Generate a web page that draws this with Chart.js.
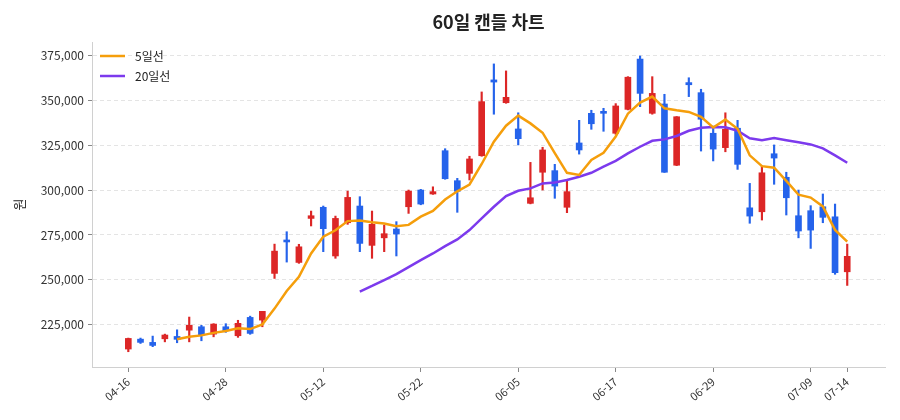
<!DOCTYPE html>
<html lang="ko">
<head>
<meta charset="utf-8">
<title>60일 캔들 차트</title>
<script src="https://cdn.jsdelivr.net/npm/chart.js@4.4.1/dist/chart.umd.min.js"></script>
<style>
  html, body { margin: 0; padding: 0; background: #fff; }
  #wrap { width: 900px; height: 420px; }
</style>
</head>
<body>
<div id="wrap"><canvas id="candleChart" width="900" height="420"></canvas></div>
<script>
// 날짜 (영업일)
const dates = ['04-16','04-17','04-20','04-21','04-22','04-23','04-24','04-27','04-28','04-29',
  '04-30','05-04','05-06','05-07','05-08','05-11','05-12','05-13','05-14','05-15',
  '05-18','05-19','05-20','05-21','05-22','05-26','05-27','05-28','05-29','06-01',
  '06-02','06-04','06-05','06-08','06-09','06-10','06-11','06-12','06-15','06-16',
  '06-17','06-18','06-19','06-22','06-23','06-24','06-25','06-26','06-29','06-30',
  '07-01','07-02','07-03','07-06','07-07','07-08','07-09','07-10','07-13','07-14'];

// 시가 / 고가 / 저가 / 종가
const opens = [211500,217000,215200,217200,218500,222000,223900,219800,223900,218900,
  229100,227600,253600,272200,259700,284200,290400,263300,281800,291100,
  269200,273400,278300,290700,300000,297800,321900,305200,309300,319100,
  361300,348600,334000,292600,309900,310800,290400,326200,342700,343800,
  331600,344900,372900,342700,347900,313800,359800,354200,331600,323600,
  334400,290100,287900,320200,307100,285700,288500,290700,285100,254500];
const highs = [217600,217600,218700,219800,222200,229300,224700,225600,225600,227500,
  229800,232500,269900,276800,269800,288300,291100,285500,299400,296300,
  288300,280500,282400,300000,300400,301800,323000,306500,318800,354600,
  370200,366300,343000,315400,323800,314300,306000,338800,344400,345500,
  348100,363100,374600,363100,353300,340900,362500,356100,334700,343000,
  338800,303700,313400,325100,309900,300000,291300,297800,292200,269900];
const lows = [210000,214600,212800,215500,215000,215500,216100,218300,220800,218000,
  219700,223900,250800,259900,259200,280000,265700,262000,280900,265700,
  262000,265700,263300,287000,291800,297600,306000,287600,305600,318800,
  342200,348300,325100,292300,300000,295400,287400,320000,333800,332700,
  331000,344600,346400,342200,309800,313600,352000,321700,316200,321300,
  311500,281500,283300,303200,286100,273400,267500,281800,253100,246900];
const closes = [217400,215200,213500,219300,216900,224700,219300,225400,221700,225800,
  220200,232500,266000,271100,268400,285700,278500,284200,295900,270300,
  280900,275700,275500,299400,292200,299100,306300,299300,317300,349200,
  360100,351600,328600,295700,322300,302200,299100,322300,336900,342700,
  346800,362800,353800,353800,309900,340800,358600,339400,322800,333800,
  314300,285500,309600,317800,295700,277200,277700,284800,254000,263100];

// 이동평균
const ma5 = [null,null,null,null,216900,218300,219100,220500,221500,223100,
  222600,225200,234000,243800,251700,264700,274000,277600,282700,283100,
  282100,281400,279800,280600,285200,288400,294700,299300,303100,314500,
  326900,335800,341400,337100,331900,320500,309600,308400,316800,320700,
  329800,342500,348700,352000,345500,344400,343500,340700,334800,339200,
  334100,319300,313300,312400,305100,297400,295800,290900,277800,271300];
const ma20 = [null,null,null,null,null,null,null,null,null,null,
  null,null,null,null,null,null,null,null,null,243500,
  246600,249900,253200,257100,261000,264700,268800,272500,277700,284200,
  290700,296600,299600,300900,303700,304200,305600,307400,309600,313000,
  316200,320400,324100,327400,328200,330100,333000,334700,335100,334900,
  333000,328800,327700,328900,327700,326600,325400,323200,319300,315200];

// 축 눈금
const tickIdx = [0, 8, 16, 24, 32, 40, 48, 56, 59];
const priceTicks = [225000, 250000, 275000, 300000, 325000, 350000, 375000];

const UP = '#dc2626';
const DOWN = '#2563eb';
const candleColors = closes.map((c, i) => c >= opens[i] ? UP : DOWN);

Chart.defaults.font.family = "'Noto Sans CJK KR', 'Noto Sans', sans-serif";
Chart.defaults.color = '#333';

// 차트 안쪽 왼쪽 위에 범례 그리기
const innerLegend = {
  id: 'innerLegend',
  afterDraw(chart) {
    const ctx = chart.ctx;
    const a = chart.chartArea;
    const items = [['5일선', '#f59e0b'], ['20일선', '#7c3aed']];
    ctx.save();
    ctx.font = "12px 'Noto Sans CJK KR', 'Noto Sans', sans-serif";
    ctx.textBaseline = 'middle';
    items.forEach((it, k) => {
      const y = a.top + 14 + k * 20;
      ctx.strokeStyle = it[1];
      ctx.lineWidth = 2.5;
      ctx.beginPath();
      ctx.moveTo(a.left + 8, y);
      ctx.lineTo(a.left + 33, y);
      ctx.stroke();
      ctx.fillStyle = '#222';
      ctx.fillText(it[0], a.left + 43, y);
    });
    ctx.restore();
  }
};

const ctx = document.getElementById('candleChart').getContext('2d');
const candleChart = new Chart(ctx, {
  type: 'bar',
  data: {
    datasets: [
      {
        type: 'line',
        label: '5일선',
        data: ma5.map((v, i) => ({ x: i, y: v })),
        borderColor: '#f59e0b',
        borderWidth: 2.5,
        pointRadius: 0,
        tension: 0,
        order: 0
      },
      {
        type: 'line',
        label: '20일선',
        data: ma20.map((v, i) => ({ x: i, y: v })),
        borderColor: '#7c3aed',
        borderWidth: 2.5,
        pointRadius: 0,
        tension: 0,
        order: 0
      },
      {
        label: '몸통',
        data: opens.map((o, i) => ({ x: i, y: [o, closes[i]] })),
        backgroundColor: candleColors,
        borderWidth: 0,
        barThickness: 6,
        minBarLength: 2,
        grouped: false,
        order: 1
      },
      {
        label: '꼬리',
        data: lows.map((l, i) => ({ x: i, y: [l, highs[i]] })),
        backgroundColor: candleColors,
        borderWidth: 0,
        barThickness: 1.5,
        grouped: false,
        order: 2
      }
    ]
  },
  options: {
    responsive: false,
    animation: false,
    layout: { padding: { left: 0, right: 15, top: 0, bottom: 0 } },
    plugins: {
      legend: { display: false },
      tooltip: { enabled: false },
      title: {
        display: true,
        text: '60일 캔들 차트',
        fullSize: false,
        color: '#222',
        font: { size: 18, weight: 'bold' },
        padding: { top: 11, bottom: 9.4 }
      }
    },
    scales: {
      x: {
        type: 'linear',
        min: -2.98,
        max: 62.1,
        offset: false,
        grid: { display: true, drawOnChartArea: false, drawTicks: true, tickLength: 5, tickColor: '#888', offset: false },
        border: { display: true, color: '#d0d0d0' },
        afterBuildTicks: (scale) => {
          scale.ticks = tickIdx.map(v => ({ value: v }));
        },
        afterFit: (scale) => { scale.height = 53; },
        ticks: {
          autoSkip: false,
          minRotation: 40,
          maxRotation: 40,
          font: { size: 11 },
          color: '#333',
          callback: (v) => dates[v]
        }
      },
      y: {
        min: 201500,
        max: 382400,
        grid: {
          color: '#e4e4e4',
          drawTicks: true,
          tickLength: 4,
          tickColor: '#888',
          tickBorderDash: []
        },
        border: { display: true, color: '#d0d0d0', dash: [4, 3] },
        afterBuildTicks: (scale) => {
          scale.ticks = priceTicks.map(v => ({ value: v }));
        },
        afterFit: (scale) => { scale.width = 92; },
        title: { display: true, text: '원', font: { size: 13 }, color: '#222', padding: { top: 11, bottom: 0 } },
        ticks: {
          font: { size: 12 },
          color: '#333',
          padding: 4,
          callback: (v) => v.toLocaleString('en-US')
        }
      }
    }
  },
  plugins: [innerLegend]
});
</script>
</body>
</html>
